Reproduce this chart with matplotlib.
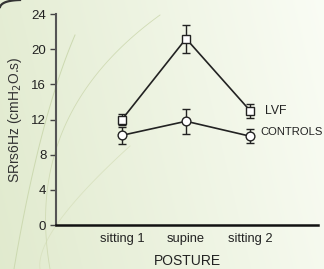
import numpy as np
import matplotlib
matplotlib.use('Agg')
import matplotlib.pyplot as plt

plt.rcParams['font.family'] = ['Liberation Sans', 'DejaVu Sans']

# Datos
posturas = ['sitting 1', 'supine', 'sitting 2']
lvf = [12.0, 21.2, 13.0]
lvf_err = [0.6, 1.6, 0.8]
controles = [10.2, 11.8, 10.1]
controles_err = [1.0, 1.4, 0.8]
yticks = [0, 4, 8, 12, 16, 20, 24]

W, H = 324, 269
fig = plt.figure(figsize=(W / 100, H / 100), dpi=100)

# Fondo degradado verde claro
bg = fig.add_axes([0, 0, 1, 1], zorder=-10)
X, Y = np.meshgrid(np.linspace(0, 1, 200), np.linspace(0, 1, 200))
t = np.clip(0.75 * X + 0.15 * Y + 0.1, 0, 1)
c0 = np.array([0.87, 0.91, 0.79])
c1 = np.array([0.98, 0.99, 0.96])
img = c0[None, None, :] * (1 - t[..., None]) + c1[None, None, :] * t[..., None]
bg.imshow(img, extent=[0, W, H, 0], origin='lower', aspect='auto')
bg.set_xlim(0, W)
bg.set_ylim(H, 0)
bg.axis('off')


def curva(p0, pm, p2, color, lw):
    # Bezier cuadratica que pasa por pm en t=0.5 (pixeles)
    p0, pm, p2 = np.array(p0, float), np.array(pm, float), np.array(p2, float)
    c = 2 * pm - 0.5 * (p0 + p2)
    s = np.linspace(0, 1, 100)[:, None]
    pts = (1 - s) ** 2 * p0 + 2 * (1 - s) * s * c + s ** 2 * p2
    bg.plot(pts[:, 0], pts[:, 1], color=color, lw=lw)


curva((14, 269), (42, 135), (75, 35), '#ccd9b0', 0.7)
curva((40, 269), (60, 220), (130, 146), '#d9e2c0', 0.6)
curva((50, 269), (64, 128), (160, 15), '#d0dbb4', 0.6)
curva((0, 7), (6, 2), (20, 0), '#333333', 1.6)

# Grafico
ax = fig.add_axes([56 / W, 1 - 225 / H, 262 / W, 211 / H])
ax.patch.set_alpha(0)
x = np.arange(len(posturas))

ax.errorbar(x, lvf, yerr=lvf_err, color='#222222', lw=1.2, marker='s', ms=5.8,
            mfc='white', mec='#222222', mew=1.0, capsize=3, elinewidth=1.0,
            capthick=1.0, zorder=3)
ax.errorbar(x, controles, yerr=controles_err, color='#222222', lw=1.2, marker='o',
            ms=6.3, mfc='white', mec='#222222', mew=1.0, capsize=3,
            elinewidth=1.0, capthick=1.0, zorder=3)

ax.text(2.23, lvf[2], 'LVF', fontsize=8.8, va='center', ha='left', color='#222222')
ax.text(2.16, 10.6, 'CONTROLS', fontsize=8.1, va='center', ha='left', color='#222222')

ax.set_xlim(-1.03, 3.06)
ax.set_ylim(0, 24)
ax.set_xticks(x)
ax.set_xticklabels(posturas, fontsize=9.3, color='#222222')
ax.set_yticks(yticks)
ax.set_yticklabels([str(v) for v in yticks], fontsize=9.5, color='#222222')
ax.tick_params(axis='x', length=0, pad=6)
ax.tick_params(axis='y', length=4, width=1.0, color='#444444', pad=3)

ax.spines['top'].set_visible(False)
ax.spines['right'].set_visible(False)
ax.spines['left'].set_color('#555555')
ax.spines['left'].set_linewidth(1.5)
ax.spines['bottom'].set_color('#111111')
ax.spines['bottom'].set_linewidth(1.8)

ax.set_xlabel('POSTURE', fontsize=10, color='#222222', labelpad=6)
ax.set_ylabel(r'SRrs6Hz (cmH$_2$O.s)', fontsize=10, color='#333333', labelpad=5)

fig.savefig('out.png', dpi=100)
